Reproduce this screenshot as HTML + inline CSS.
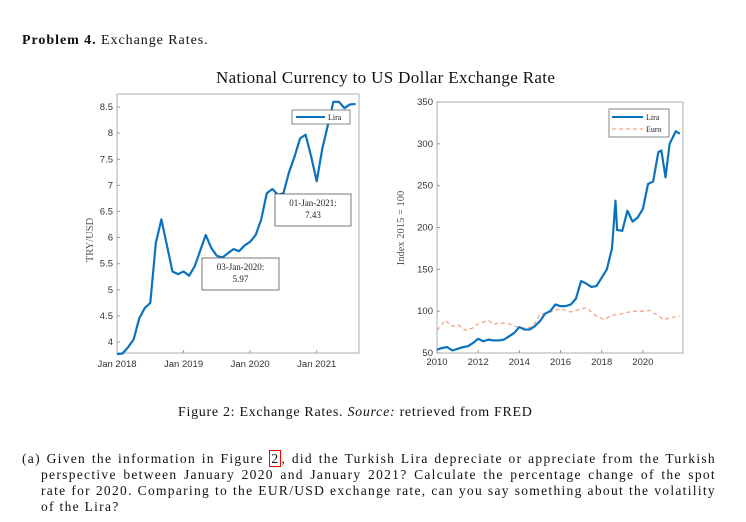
<!DOCTYPE html>
<html><head><meta charset="utf-8"><style>
body{margin:0;background:#fff;width:746px;height:522px;overflow:hidden;position:relative;font-family:"Liberation Serif",serif;color:#111}
.t{position:absolute;white-space:nowrap}
.j{position:absolute;font-size:13.5px;letter-spacing:1.3px;text-align:justify;text-align-last:justify;white-space:nowrap;overflow:visible}
svg{position:absolute;left:0;top:0}
</style></head><body>
<div class="t" style="left:22px;top:33px;font-size:14px;letter-spacing:0.95px"><b>Problem 4.</b> Exchange Rates.</div>
<div class="t" style="left:216px;top:68px;font-size:17px;letter-spacing:0.35px">National Currency to US Dollar Exchange Rate</div>
<div class="t" style="left:178px;top:405px;font-size:14px;letter-spacing:0.7px">Figure 2: Exchange Rates. <i>Source:</i> retrieved from FRED</div>
<div>
<div class="j" style="left:22px;top:451px;width:694px">(a) Given the information in Figure <span style="border:1px solid red;padding:0 1px">2</span>, did the Turkish Lira depreciate or appreciate from the Turkish</div>
<div class="j" style="left:41px;top:467px;width:675px">perspective between January 2020 and January 2021? Calculate the percentage change of the spot</div>
<div class="j" style="left:41px;top:483px;width:675px">rate for 2020. Comparing to the EUR/USD exchange rate, can you say something about the volatility</div>
<div class="t" style="left:41px;top:499px;font-size:13.5px;letter-spacing:1.3px">of the Lira?</div>
</div>
<svg id="s" width="746" height="522" xmlns="http://www.w3.org/2000/svg" font-family="Liberation Sans, sans-serif"></svg>
<script>
// Left chart data (monthly Jan 2018 - Aug 2021)
const liraMonthly=[3.77,3.78,3.9,4.05,4.45,4.65,4.75,5.9,6.35,5.85,5.35,5.3,
5.35,5.27,5.45,5.75,6.05,5.8,5.65,5.62,5.7,5.78,5.74,5.85,
5.92,6.05,6.35,6.85,6.93,6.82,6.85,7.25,7.55,7.9,7.97,7.55,
7.08,7.7,8.15,8.6,8.6,8.48,8.55,8.56];
const leftYTicks=[4,4.5,5,5.5,6,6.5,7,7.5,8,8.5];
const leftXTicks=[2018,2019,2020,2021];
// Right chart data (index 2015=100)
const liraYears=[2010,2010.25,2010.5,2010.75,2011,2011.25,2011.5,2011.75,2012,2012.25,2012.5,2012.75,2013,2013.25,2013.5,2013.75,2014,2014.25,2014.5,2014.75,2015,2015.25,2015.5,2015.75,2016,2016.25,2016.5,2016.75,2017,2017.25,2017.5,2017.75,2018,2018.25,2018.5,2018.67,2018.75,2019,2019.25,2019.5,2019.75,2020,2020.25,2020.5,2020.75,2020.9,2021.1,2021.3,2021.6,2021.8];
const liraIndex=[54,56,57,53,55,57,58,62,67,64,66,65,65,66,70,74,81,78,78,82,88,97,100,108,106,106,108,115,136,133,129,130,140,150,175,232,197,196,220,207,212,222,252,255,290,292,260,300,315,312];
const euroYears=[2010,2010.4,2010.75,2011,2011.4,2011.75,2012,2012.5,2012.75,2013,2013.5,2014,2014.5,2014.75,2015,2015.5,2016,2016.5,2017,2017.25,2017.75,2018.1,2018.5,2019,2019.5,2020,2020.3,2020.8,2021,2021.5,2021.8];
const euroIndex=[77,89,82,84,77,80,85,89,84,86,85,80,80,85,96,99,103,99,103,104,94,90,95,97,100,100,101,94,90,93,94];
const rightYTicks=[50,100,150,200,250,300,350];
const rightXTicks=[2010,2012,2014,2016,2018,2020];

const s=document.getElementById('s');const NS='http://www.w3.org/2000/svg';
function el(tag,attrs,parent){const e=document.createElementNS(NS,tag);for(const k in attrs)e.setAttribute(k,attrs[k]);(parent||s).appendChild(e);return e;}
function txt(x,y,str,attrs){const e=el('text',Object.assign({x:x,y:y,'font-size':9.5,fill:'#333'},attrs||{}));e.textContent=str;return e;}

const L={x0:117,x1:359,y0:94,y1:353,xmin:2018,xmax:2021.635,ymin:3.79,ymax:8.75};
const lx=v=>L.x0+(v-L.xmin)/(L.xmax-L.xmin)*(L.x1-L.x0);
const ly=v=>L.y1-(v-L.ymin)/(L.ymax-L.ymin)*(L.y1-L.y0);
const gL=el('g',{});


el('rect',{x:L.x0,y:L.y0,width:L.x1-L.x0,height:L.y1-L.y0,fill:'#fff',stroke:'#999','stroke-width':0.8},gL);
leftYTicks.forEach(v=>{el('line',{x1:L.x0,x2:L.x0+3,y1:ly(v),y2:ly(v),stroke:'#999'},gL);const t=txt(L.x0-4,ly(v)+3,String(v),{'text-anchor':'end'});});
leftXTicks.forEach(v=>{el('line',{x1:lx(v),x2:lx(v),y1:L.y1,y2:L.y1-3,stroke:'#999'},gL);const t=txt(lx(v),L.y1+14,'Jan '+v,{'text-anchor':'middle'});});
const ylab=txt(0,0,'TRY/USD',{'font-family':'Liberation Serif, serif','font-size':10.5,transform:'translate(93,240) rotate(-90)','text-anchor':'middle',fill:'#555'});

const lp=el('polyline',{points:liraMonthly.map((v,i)=>lx(2018+i/12)+','+ly(v)).join(' '),fill:'none',stroke:'#0b72bd','stroke-width':2.2,'stroke-linejoin':'round'},gL);

function box(x,y,w,h,l1,l2,name){const g=el('g',{});el('rect',{x:x,y:y,width:w,height:h,fill:'#fff',stroke:'#555','stroke-width':0.8},g);const a=txt(x+w/2,y+12,l1,{'text-anchor':'middle','font-family':'Liberation Serif, serif','font-size':9,fill:'#222'});g.appendChild(a);const b=txt(x+w/2,y+24,l2,{'text-anchor':'middle','font-family':'Liberation Serif, serif','font-size':9,fill:'#222'});g.appendChild(b);}
box(202,258,77,32,'03-Jan-2020:','5.97','annotation-jan-2020');
box(275,194,76,32,'01-Jan-2021:','7.43','annotation-jan-2021');
const lg=el('g',{});
el('rect',{x:292,y:110,width:58,height:14,fill:'#fff',stroke:'#555','stroke-width':0.7},lg);
el('line',{x1:296,x2:325,y1:117,y2:117,stroke:'#0b72bd','stroke-width':2},lg);
lg.appendChild(txt(328,120,'Lira',{'font-family':'Liberation Serif, serif','font-size':8,fill:'#222'}));

const R={x0:437,x1:683,y0:102,y1:353,xmin:2010,xmax:2021.95,ymin:50,ymax:350};
const rx=v=>R.x0+(v-R.xmin)/(R.xmax-R.xmin)*(R.x1-R.x0);
const ry=v=>R.y1-(v-R.ymin)/(R.ymax-R.ymin)*(R.y1-R.y0);
const gR=el('g',{});


el('rect',{x:R.x0,y:R.y0,width:R.x1-R.x0,height:R.y1-R.y0,fill:'#fff',stroke:'#999','stroke-width':0.8},gR);
rightYTicks.forEach(v=>{el('line',{x1:R.x0,x2:R.x0+3,y1:ry(v),y2:ry(v),stroke:'#999'},gR);const t=txt(R.x0-4,ry(v)+3,String(v),{'text-anchor':'end'});});
rightXTicks.forEach(v=>{el('line',{x1:rx(v),x2:rx(v),y1:R.y1,y2:R.y1-3,stroke:'#999'},gR);const t=txt(rx(v),R.y1+12,String(v),{'text-anchor':'middle'});});
const ylab2=txt(0,0,'Index 2015 = 100',{'font-family':'Liberation Serif, serif','font-size':10.5,transform:'translate(404,228) rotate(-90)','text-anchor':'middle',fill:'#555'});

const ep=el('polyline',{points:euroYears.map((v,i)=>rx(v)+','+ry(euroIndex[i])).join(' '),fill:'none',stroke:'#f4a582','stroke-width':1.3,'stroke-dasharray':'4,3'},gR);

const rp=el('polyline',{points:liraYears.map((v,i)=>rx(v)+','+ry(liraIndex[i])).join(' '),fill:'none',stroke:'#0b72bd','stroke-width':2.2,'stroke-linejoin':'round'},gR);

const rg=el('g',{});
el('rect',{x:609,y:109,width:60,height:28,fill:'#fff',stroke:'#555','stroke-width':0.7},rg);
el('line',{x1:612,x2:643,y1:117,y2:117,stroke:'#0b72bd','stroke-width':2},rg);
el('line',{x1:612,x2:643,y1:129,y2:129,stroke:'#f4a582','stroke-width':1.3,'stroke-dasharray':'4,3'},rg);
rg.appendChild(txt(646,120,'Lira',{'font-family':'Liberation Serif, serif','font-size':8,fill:'#222'}));
rg.appendChild(txt(646,132,'Euro',{'font-family':'Liberation Serif, serif','font-size':8,fill:'#222'}));
</script>
</body></html>
